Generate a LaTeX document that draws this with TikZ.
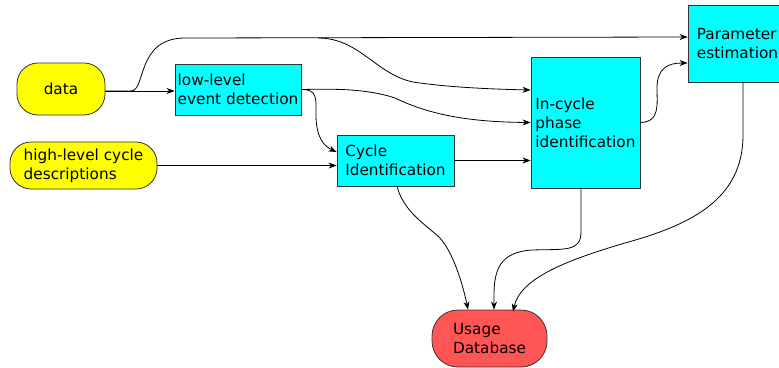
\documentclass[tikz,border=0pt]{standalone}
\usepackage{fontspec}
\setmainfont{DejaVu Sans}
\usetikzlibrary{arrows.meta,calc}
\definecolor{dbred}{RGB}{255,85,85}
\definecolor{boxcyan}{RGB}{0,255,255}
\definecolor{termyellow}{RGB}{255,255,0}
\begin{document}
\begin{tikzpicture}[x=1pt,y=-1pt,
  box/.style={font=\fontsize{15.3}{19}\selectfont, align=left, draw=black!80, line width=0.8pt, inner sep=0pt},
  term/.style={box, fill=termyellow, rounded corners=21pt},
  proc/.style={box, fill=boxcyan},
  db/.style={box, fill=dbred, rounded corners=26pt},
  conn/.style={line width=0.8pt, -{Stealth[length=8pt,width=6pt,inset=2.5pt]}}]
\useasboundingbox (0,0) rectangle (779,367);
\clip (0,0) rectangle (779,367);

\node[term, minimum width=88pt, minimum height=52pt] (data) at (61,89) {data};
\node[term, minimum width=147pt, minimum height=47pt] (hl) at (83.5,165.5) {high-level cycle\\descriptions};
\node[proc, minimum width=126pt, minimum height=51pt] (lld) at (238,89.5) {low-level\\event detection};
\node[proc, minimum width=117pt, minimum height=51pt] (cyc) at (395.5,160.5) {Cycle\\Identification};
\node[proc, minimum width=109pt, minimum height=131pt] (inc) at (585.5,122.5) {In-cycle\\phase\\identification};
\node[proc, minimum width=99pt, minimum height=77pt] (par) at (737.5,43.5) {Parameter\\estimation};
\node[db, minimum width=115pt, minimum height=57pt] (usage) at (489.5,338.5) {Usage\\Database};

% data -> low-level
\draw[conn] ($(data.east)+(0,2)$) -- ($(lld.west)+(0,1.5)$);
% data -> parameter estimation
\draw[conn] ($(data.east)+(0,2)$) -- (131,91) .. controls (146,91) and (136,38) .. (185,38) -- ($(par.west)+(0,-6.5)$);
% data -> in-cycle (branch)
\draw[conn] (318,38) .. controls (362,38) and (378,79) .. (420,83) .. controls (450,87) and (485,89) .. ($(inc.west)+(0,-32.5)$);
% low-level -> in-cycle
\draw[conn] (lld.east) .. controls (330,89) and (365,88) .. (395,98) .. controls (430,115) and (470,122) .. ($(inc.west)+(0,0)$);
% low-level -> cycle identification
\draw[conn] (lld.east) .. controls (318,89) and (316,100) .. (316,115) .. controls (316,140) and (326,147) .. ($(cyc.west)+(0,-8.5)$);
% high-level -> cycle identification
\draw[conn] (hl.east) -- (hl.east -| cyc.west);
% cycle identification -> in-cycle
\draw[conn] (cyc.east) -- (cyc.east -| inc.west);
% in-cycle -> parameter estimation
\draw[conn] (inc.east) .. controls (660,122) and (657,105) .. (657,88) .. controls (657,68) and (668,63) .. ($(par.west)+(0,19.5)$);
% cycle identification -> usage
\draw[conn] ($(cyc.south)+(1.5,0)$) .. controls (404,212) and (425,224) .. (440,238) .. controls (455,255) and (464,290) .. ($(usage.north)+(-21.5,0)$);
% in-cycle -> usage
\draw[conn] ($(inc.south)+(-4.5,0)$) -- (581,232) .. controls (581,252) and (565,249) .. (532,250) .. controls (500,252) and (494,270) .. (494,295) -- ($(usage.north)+(4.5,0)$);
% parameter -> usage
\draw[conn] ($(par.south)+(5.5,0)$) -- (743,135) .. controls (743,200) and (690,225) .. (625,243) .. controls (560,262) and (520,280) .. ($(usage.north)+(23.5,2)$);
\end{tikzpicture}
\end{document}
